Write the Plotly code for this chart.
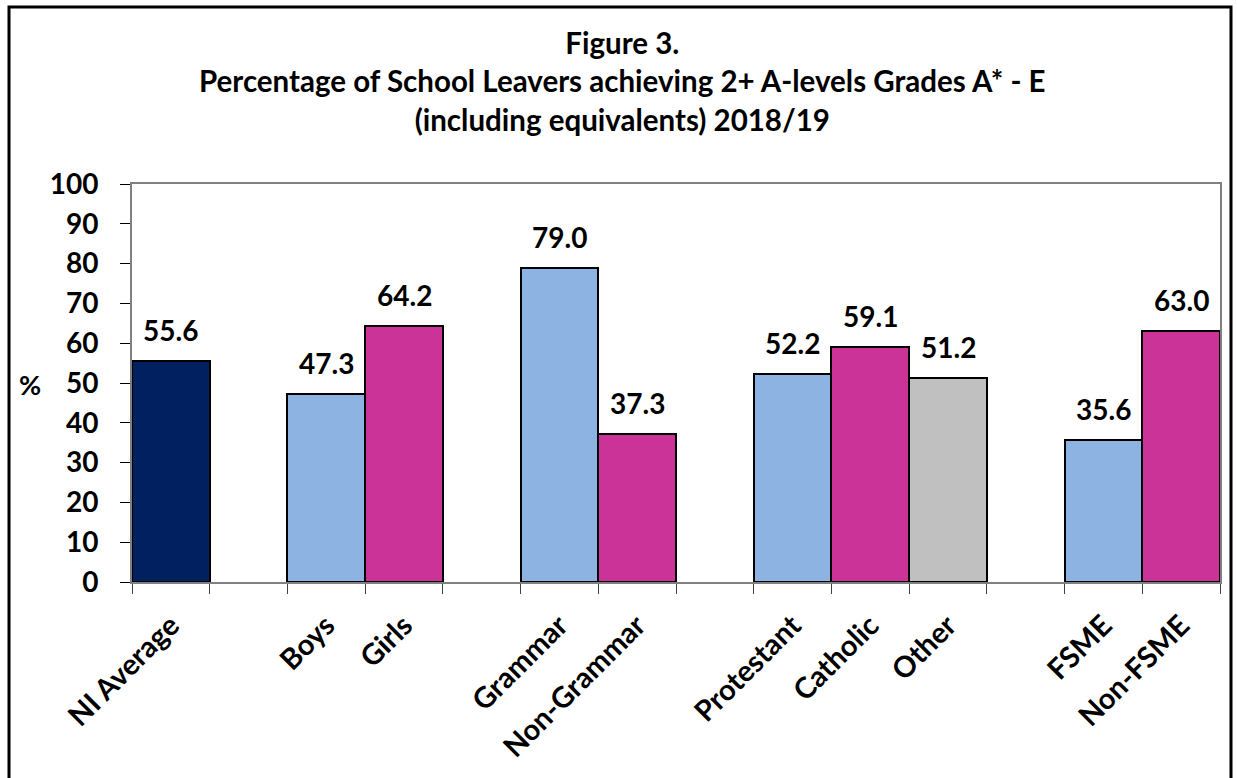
import plotly.graph_objects as go

categories = ["NI Average", " ", "Boys", "Girls", "  ", "Grammar", "Non-Grammar", "   ",
              "Protestant", "Catholic", "Other", "    ", "FSME", "Non-FSME"]
values = [55.6, None, 47.3, 64.2, None, 79.0, 37.3, None, 52.2, 59.1, 51.2, None, 35.6, 63.0]
bar_colors = ["#002060", "#ffffff", "#8DB3E2", "#CC3399", "#ffffff", "#8DB3E2", "#CC3399", "#ffffff",
              "#8DB3E2", "#CC3399", "#C0C0C0", "#ffffff", "#8DB3E2", "#CC3399"]
y_ticks = [0, 10, 20, 30, 40, 50, 60, 70, 80, 90, 100]

title_text = ("Figure 3.<br>Percentage of School Leavers achieving 2+ A-levels Grades A* - E"
              "<br>(including equivalents) 2018/19")

FONT = "Lato"
PL, PR, PT, PB = 132, 1220, 184, 582   # plot area pixel box
PW, PH = PR - PL, PB - PT


def px_x(x):
    return (x - PL) / PW


def px_y(y):
    return (PB - y) / PH


fig = go.Figure()
fig.add_trace(go.Bar(
    x=categories, y=values,
    marker=dict(color=bar_colors, line=dict(color="#000000", width=2)),
    hoverinfo="x+y",
))

for c, v in zip(categories, values):
    if v is None:
        continue
    fig.add_annotation(x=c, y=v, xref="x", yref="y", text=f"{v:.1f}", showarrow=False,
                       yanchor="bottom", yshift=12,
                       font=dict(family=FONT, size=28, color="#000000", weight="bold"))

fig.add_annotation(x=px_x(30), y=px_y(384), xref="paper", yref="paper", text="%", showarrow=False,
                   xanchor="center", yanchor="middle",
                   font=dict(family=FONT, size=27, color="#000000", weight="bold"))

fig.add_annotation(x=px_x(622), y=px_y(81), xref="paper", yref="paper", text=title_text,
                   showarrow=False, xanchor="center", yanchor="middle", align="center",
                   font=dict(family=FONT, size=29.5, color="#000000", weight="bold"))

fig.add_shape(type="rect", xref="paper", yref="paper",
              x0=px_x(9), x1=px_x(1231), y0=px_y(800), y1=px_y(7),
              line=dict(color="#000000", width=3), fillcolor="rgba(0,0,0,0)", layer="below")

fig.update_layout(
    width=1237, height=778,
    margin=dict(l=PL, r=1237 - PR, t=PT, b=778 - PB),
    paper_bgcolor="#ffffff", plot_bgcolor="#ffffff",
    bargap=0, showlegend=False,
    font=dict(family=FONT, color="#000000"),
    xaxis=dict(type="category", categoryorder="array", categoryarray=categories,
               tickson="boundaries", ticks="outside", ticklen=10, tickcolor="#404040", tickwidth=1,
               showline=True, linecolor="#808080", linewidth=2, mirror=True,
               tickangle=-45, ticklabelstandoff=13,
               tickfont=dict(family=FONT, size=29, color="#000000", weight="bold"),
               showgrid=False, fixedrange=True),
    yaxis=dict(range=[0, 100], tickvals=y_ticks, ticks="outside", ticklen=10, tickcolor="#000000",
               tickwidth=1, showline=True, linecolor="#808080", linewidth=2, mirror=True,
               showgrid=False, zeroline=False, ticklabelstandoff=16,
               tickfont=dict(family=FONT, size=28, color="#000000", weight="bold"), fixedrange=True),
)

fig.write_html("out.html", config={"displayModeBar": False},
               post_script="document.body.style.margin='0px';")
